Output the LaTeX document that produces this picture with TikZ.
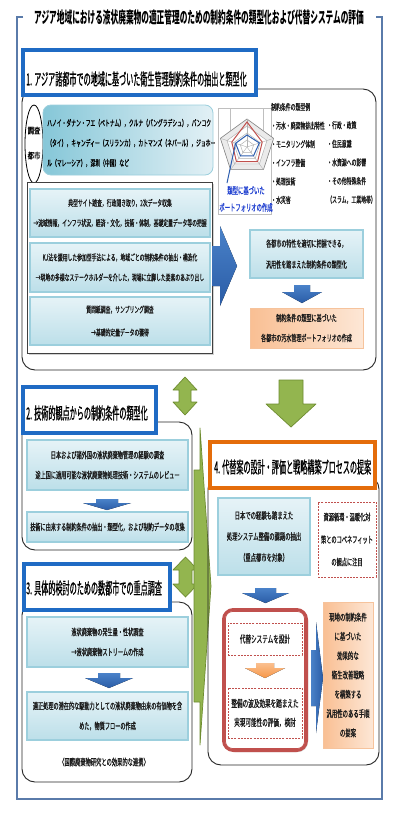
\documentclass[tikz,border=0pt]{standalone}
\usepackage{fontspec}
\usetikzlibrary{shapes.geometric,shadows}
\newfontfamily\jp[FakeStretch=0.56,FakeBold=0.7]{Noto Sans CJK JP}
\newfontfamily\jpW[FakeStretch=0.75,FakeBold=0.7]{Noto Sans CJK JP}
\newfontfamily\jpT[FakeStretch=0.48]{Noto Sans CJK JP}
\newfontfamily\jpH[FakeStretch=0.43,FakeBold=0.6]{Noto Sans CJK JP}
\definecolor{hblue}{HTML}{1F6BC4}
\definecolor{horange}{HTML}{E46C0A}
\definecolor{lbtop}{HTML}{E6F3F7}
\definecolor{lbbot}{HTML}{BCDFE9}
\definecolor{lbdraw}{HTML}{9CCFDD}
\definecolor{tealL}{HTML}{86C7D8}
\definecolor{tealR}{HTML}{E2F0F5}
\definecolor{orL}{HTML}{F9BF93}
\definecolor{orR}{HTML}{FDE7D6}
\definecolor{ordraw}{HTML}{F6C39C}
\definecolor{arrblue}{HTML}{4A82C9}
\definecolor{arrblueD}{HTML}{2A5CA6}
\definecolor{grn}{HTML}{93B54F}
\definecolor{grnD}{HTML}{6E8C30}
\definecolor{redc}{HTML}{C0504D}
\definecolor{frm}{HTML}{5A7BAA}
\definecolor{arror}{HTML}{F79646}
\definecolor{lblue}{HTML}{2040D0}
\definecolor{rblue}{HTML}{2E5FB0}
\definecolor{txt}{HTML}{1A1A1A}
\begin{document}
\begin{tikzpicture}[x=1pt,y=-1pt,
  lbox/.style={draw=lbdraw,line width=1.2pt,top color=lbtop,bottom color=lbbot,inner sep=0pt,align=center,text=txt},
  obox/.style={draw=ordraw,line width=1pt,left color=orL,right color=orR,inner sep=0pt,align=center,text=txt},
  dbox/.style={draw=redc,line width=0.9pt,dash pattern=on 2pt off 1.2pt,fill=white,inner sep=0pt,align=center,text=txt},
  cont/.style={draw=black!85,line width=0.9pt,rounded corners=13pt,inner sep=0pt},
  hdr/.style={draw=#1,line width=4pt,fill=white,inner sep=0pt},
  barr/.style={top color=arrblue,bottom color=arrblueD,draw=none},
  oarr/.style={top color=arror!60,bottom color=arror,draw=none},
  garr/.style={fill=grn,draw=grnD,line width=0.7pt,line join=round},
  fA/.style={font=\jp\fontsize{8.6}{20}\selectfont},
  fB/.style={font=\jp\fontsize{9.2}{20}\selectfont},
  fC/.style={font=\jp\fontsize{9.5}{21}\selectfont},
  fH/.style={font=\jpH\fontsize{16.5}{18}\selectfont},
  fL/.style={font=\jp\fontsize{8.7}{18.6}\selectfont,align=left,inner sep=0pt,text=txt},
]
\useasboundingbox (0,0) rectangle (400,819);
\fill[white] (0,0) rectangle (400,819);

% outer frame and title
\draw[frm,line width=1.8pt] (23,17) -- (17,17) -- (17,799) -- (382,799) -- (382,17) -- (376,17);
\node[font=\jpT\bfseries\fontsize{16}{16}\selectfont,inner sep=0pt] (title) at (199,17)
  {アジア地域における液状廃棄物の適正管理のための制約条件の類型化および代替システムの評価};

% ===== Section 1 =====
\node[cont,minimum width=354pt,minimum height=281pt] (c1) at (199,229.5) {};
\node[hdr=hblue,minimum width=233pt,minimum height=45pt] (h1) at (139.5,72.5) {};
\draw[hblue,line width=0.8pt] ([shift={(3.5,3.5)}]h1.north west) rectangle ([shift={(-3.5,-3.5)}]h1.south east);
\node[fH,anchor=west,inner sep=0pt] (h1t) at (26,79) {1. アジア諸都市での地域に基づいた衛生管理制約条件の抽出と類型化};

\node[ellipse,draw=black,line width=0.8pt,fill=white,minimum width=18pt,minimum height=78pt,inner sep=0pt] (ell) at (34,144) {};
\node[font=\jpW\fontsize{8.5}{25}\selectfont,align=center,inner sep=0pt] (ellt) at (34,143) {調査\\都市};
\node[draw=lbdraw,line width=0.8pt,left color=tealL,right color=tealR,rounded corners=8pt,minimum width=170pt,minimum height=70pt,inner sep=0pt] (cities) at (128,140) {};
\node[fA,align=left,anchor=west,inner sep=0pt] (citytxt) at (47,143)
  {ハノイ・ダナン・フエ（ベトナム），クルナ（バングラデシュ），バンコク\\（タイ），キャンディー（スリランカ），カトマンズ（ネパール），ジョホー\\ル（マレーシア），深圳（中国）など};

% white box with three steps
\node[draw=black!75,line width=0.9pt,fill=white,drop shadow={opacity=0.35,shadow xshift=1.5pt,shadow yshift=-1.5pt},minimum width=185pt,minimum height=171pt,inner sep=0pt] (wb) at (119.5,267.5) {};
\node[lbox,fA,minimum width=180pt,minimum height=48pt] (bA) at (120,213)
  {典型サイト踏査，行政聞き取り，2次データ収集\\→流域情報，インフラ状況，経済・文化，技術・体制，基礎定量データ等の把握};
\node[lbox,fA,minimum width=180pt,minimum height=49pt] (bB) at (120,267.5)
  {KJ法を援用した参加型手法による，地域ごとの制約条件の抽出・構造化\\→現地の多様なステークホルダーを介した，現場に立脚した要素のあぶり出し};
\node[lbox,font=\jp\fontsize{8.6}{23}\selectfont,minimum width=180pt,minimum height=48pt] (bC) at (120,321)
  {質問紙調査，サンプリング調査\\→基礎的定量データの獲得};

% radar chart
\node[draw=black!25,line width=0.6pt,minimum width=53pt,minimum height=106pt,inner sep=0pt] (chart) at (244.5,161) {};
\draw[black!25,line width=0.5pt] (230,108) -- (230,146) (263,108) -- (263,146);
\begin{scope}[shift={(247,147)}]
  \fill[black!8] (270:28) -- (342:28) -- (54:28) -- (126:28) -- (198:28) -- cycle;
  \fill[white] (270:21) -- (342:21) -- (54:21) -- (126:21) -- (198:21) -- cycle;
  \foreach \r in {7,14,21} \draw[black!30,line width=0.5pt] (270:\r) -- (342:\r) -- (54:\r) -- (126:\r) -- (198:\r) -- cycle;
  \draw[black!50,line width=0.6pt] (270:28) -- (342:28) -- (54:28) -- (126:28) -- (198:28) -- cycle;
  \foreach \a in {270,342,54,126,198} \draw[black!30,line width=0.4pt] (0,0) -- (\a:28);
  \draw[redc,line width=1pt] (270:25) -- (342:16) -- (54:18) -- (126:18) -- (198:16) -- cycle;
  \draw[rblue,line width=1pt] (270:12) -- (342:13) -- (54:11) -- (126:11) -- (198:12) -- cycle;
  \draw[rblue,line width=1pt] (198:12) -- (-20,36);
\end{scope}
\node[font=\jp\fontsize{9.5}{17}\selectfont,text=lblue,align=center,inner sep=0pt] (chartlbl) at (246,199) {類型に基づいた\\ポートフォリオの作成};

% legend
\node[fL,anchor=west] (leg1) at (271,153.5) {制約条件の類型例\\・汚水・廃棄物排出特性\\・モニタリング体制\\・インフラ整備\\・処理技術\\・水災害};
\node[fL,anchor=west] (leg2) at (327,162.5) {・行政・政策\\・住民意識\\・水資源への影響\\・その他特殊条件\\（スラム，工業地帯）};

% right column of section 1
\fill[barr] (212,246) -- (220,246) -- (220,226) -- (237,266) -- (220,306) -- (220,286) -- (212,286) -- cycle;
\node[lbox,font=\jp\fontsize{9}{21}\selectfont,minimum width=113pt,minimum height=48pt] (r1) at (306.5,254)
  {各都市の特性を適切に把握できる，\\汎用性を踏まえた制約条件の類型化};
\fill[barr] (294,285) -- (310,285) -- (310,292) -- (322,292) -- (302,303) -- (282,292) -- (294,292) -- cycle;
\node[obox,font=\jp\fontsize{9}{20}\selectfont,minimum width=113pt,minimum height=40pt] (r2) at (306.5,328)
  {制約条件の類型に基づいた\\各都市の汚水管理ポートフォリオの作成};

% green arrows
\filldraw[garr] (185,377) -- (197,390) -- (191,390) -- (191,402) -- (197,402) -- (185,415) -- (173,402) -- (179,402) -- (179,390) -- (173,390) -- cycle;
\filldraw[garr] (279,380) -- (303,380) -- (303,404) -- (316,404) -- (291,427) -- (266,404) -- (279,404) -- cycle;
\filldraw[garr] (185.5,557) -- (198,570) -- (192,570) -- (192,584) -- (198,584) -- (185.5,597) -- (173,584) -- (179,584) -- (179,570) -- (173,570) -- cycle;
\filldraw[garr] (194,470) -- (200,470) -- (200,428) -- (211,586) -- (200,745) -- (200,702) -- (194,702) -- cycle;

% ===== Section 2 =====
\node[cont,minimum width=170pt,minimum height=128pt] (c2) at (107,486) {};
\node[hdr=hblue,minimum width=133pt,minimum height=46pt] (h2) at (89.5,410) {};
\draw[hblue,line width=0.8pt] ([shift={(3.5,3.5)}]h2.north west) rectangle ([shift={(-3.5,-3.5)}]h2.south east);
\node[fH,anchor=west,inner sep=0pt] (h2t) at (26,413) {2. 技術的観点からの制約条件の類型化};
\node[lbox,fB,minimum width=161pt,minimum height=50pt] (b2a) at (107.5,465)
  {日本および諸外国の液状廃棄物管理の経験の調査\\途上国に適用可能な液状廃棄物処理技術・システムのレビュー};
\fill[barr] (96,499) -- (118,499) -- (118,503) -- (131,503) -- (107,510) -- (83,503) -- (96,503) -- cycle;
\node[lbox,fB,minimum width=161pt,minimum height=30pt] (b2b) at (107.5,527)
  {技術に由来する制約条件の抽出・類型化，および制約データの収集};

% ===== Section 3 =====
\node[cont,minimum width=170pt,minimum height=180pt] (c3) at (107,692) {};
\node[hdr=hblue,minimum width=146pt,minimum height=46pt] (h3) at (97,587) {};
\draw[hblue,line width=0.8pt] ([shift={(3.5,3.5)}]h3.north west) rectangle ([shift={(-3.5,-3.5)}]h3.south east);
\node[fH,anchor=west,inner sep=0pt] (h3t) at (26,588) {3. 具体的検討のための数都市での重点調査};
\node[lbox,fB,minimum width=161pt,minimum height=50pt] (b3a) at (107.5,642)
  {液状廃棄物の発生量・性状調査\\→液状廃棄物ストリームの作成};
\fill[barr] (98,673) -- (120,673) -- (120,678) -- (133,678) -- (109,688) -- (85,678) -- (98,678) -- cycle;
\node[lbox,fB,minimum width=161pt,minimum height=48pt] (b3b) at (107.5,716)
  {適正処理の潜在的な駆動力としての液状廃棄物由来の有価物を含\\めた，物質フローの作成};
\node[font=\jp\fontsize{9.4}{12}\selectfont,inner sep=0pt,text=txt] (note3) at (104,762) {〈国際廃棄物研究との効果的な連携〉};

% ===== Section 4 =====
\node[cont,minimum width=171pt,minimum height=289pt] (c4) at (293.5,620.5) {};
\node[hdr=horange,minimum width=165pt,minimum height=46pt] (h4) at (292.5,465) {};
\draw[horange,line width=0.8pt] ([shift={(3.5,3.5)}]h4.north west) rectangle ([shift={(-3.5,-3.5)}]h4.south east);
\node[fH,anchor=west,inner sep=0pt] (h4t) at (214,467) {4. 代替案の設計・評価と戦略構築プロセスの提案};
\node[lbox,fC,minimum width=92pt,minimum height=77pt] (b4a) at (264,536.5)
  {日本での経験も踏まえた\\処理システム整備の課題の抽出\\（重点都市を対象）};
\node[dbox,font=\jp\fontsize{9.3}{22.5}\selectfont,minimum width=58pt,minimum height=75pt] (b4b) at (347,539.5)
  {資源循環・温暖化対\\策とのコベネフィット\\の観点に注目};
\fill[barr] (255,588) -- (276,588) -- (276,593) -- (289,593) -- (265.5,603) -- (242,593) -- (255,593) -- cycle;
\node[draw=redc,line width=3pt,fill=white,rounded corners=10pt,drop shadow={opacity=0.35,shadow xshift=1.5pt,shadow yshift=-1.5pt},minimum width=83pt,minimum height=141pt,inner sep=0pt] (rb) at (265,680) {};
\draw[redc,line width=0.8pt,rounded corners=7pt] ([shift={(3.5,3.5)}]rb.north west) rectangle ([shift={(-3.5,-3.5)}]rb.south east);
\node[dbox,font=\jp\fontsize{10}{19}\selectfont,minimum width=74pt,minimum height=32pt] (d1) at (265,639) {代替システムを設計};
\fill[oarr] (256,663) -- (274,663) -- (274,668) -- (285,668) -- (265,678) -- (245,668) -- (256,668) -- cycle;
\node[dbox,font=\jp\fontsize{10}{19}\selectfont,minimum width=74pt,minimum height=50pt] (d2) at (265,713)
  {整備の波及効果を踏まえた\\実現可能性の評価，検討};
\fill[left color=arrblue,right color=arrblueD] (311,650) -- (316,650) -- (316,622) -- (323,678) -- (316,733) -- (316,706) -- (311,706) -- cycle;
\node[obox,font=\jp\fontsize{9.6}{19.3}\selectfont,minimum width=50pt,minimum height=146pt] (b4c) at (348,675)
  {現地の制約条件\\に基づいた\\効果的な\\衛生改善戦略\\を構築する\\汎用性のある手順\\の提案};
\end{tikzpicture}
\end{document}
